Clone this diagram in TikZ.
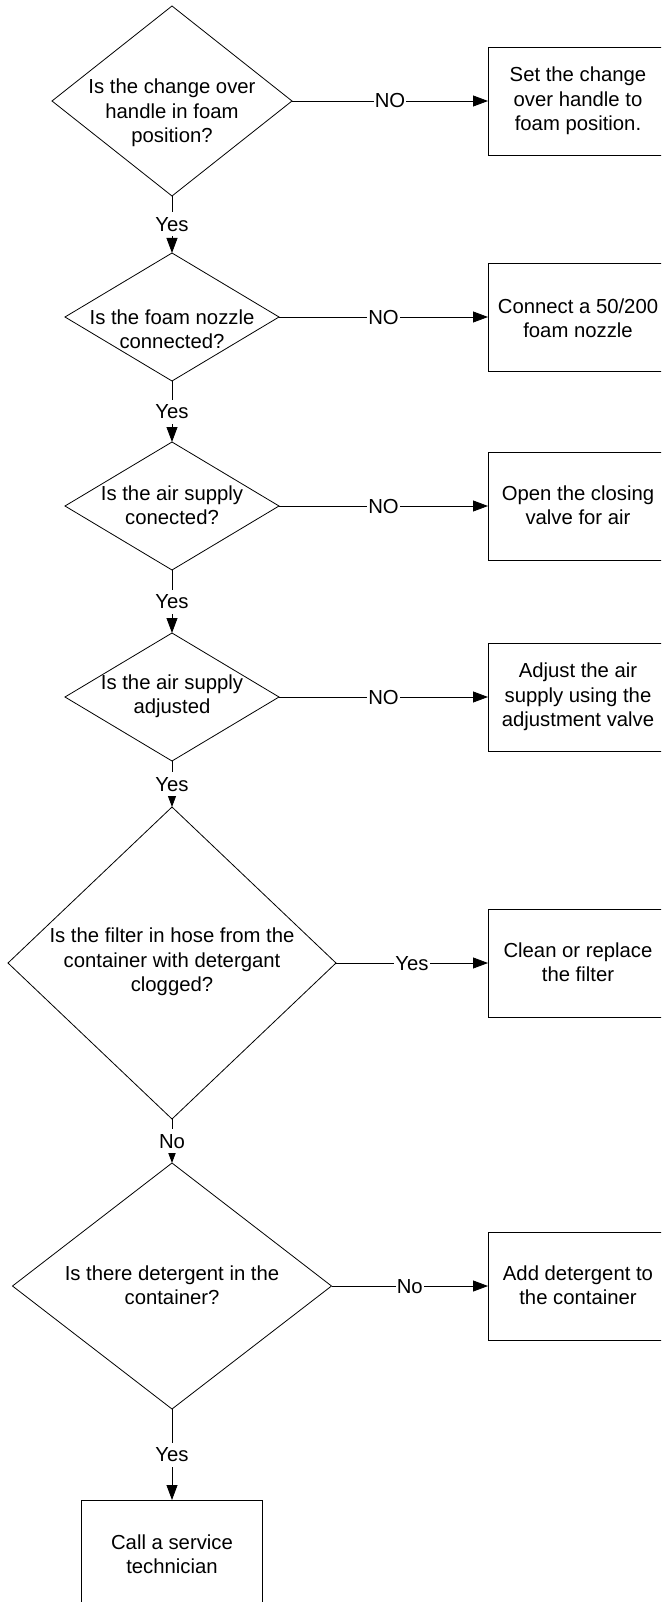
\documentclass[tikz,border=0pt]{standalone}
\usepackage{fontspec}
\setmainfont{Liberation Sans}
\usetikzlibrary{shapes.geometric,arrows.meta}
\begin{document}
\begin{tikzpicture}[x=1pt,y=-1pt,
  dia/.style={shape=diamond,draw=black,line width=0.8pt,inner sep=0pt,outer sep=0pt},
  box/.style={draw=black,line width=0.9pt,minimum width=180pt,minimum height=108pt,inner sep=0pt,outer sep=0pt},
  txt/.style={align=center,font=\fontsize{20.3}{24.5}\selectfont,inner sep=0pt},
  lab/.style={fill=white,font=\fontsize{20.3}{24.5}\selectfont,inner xsep=1pt,inner ysep=2pt,text height=17pt,text depth=3pt},
  conn/.style={line width=0.8pt,draw=black,-{Triangle[length=15pt,width=11pt]}}
]
\useasboundingbox (0,0) rectangle (661,1602);
\begin{scope}
\clip (0,0) rectangle (661,1602);
% decisions
\node[dia,minimum width=240pt,minimum height=190pt] (d1) at (172,101) {};
\node[txt] (t1) at (172,113) {Is the change over\\handle in foam\\position?};
\node[dia,minimum width=214pt,minimum height=128pt] (d2) at (172,317) {};
\node[txt] (t2) at (172,329) {Is the foam nozzle\\connected?};
\node[dia,minimum width=214pt,minimum height=128pt] (d3) at (172,506) {};
\node[txt] (t3) at (172,505) {Is the air supply\\conected?};
\node[dia,minimum width=214pt,minimum height=128pt] (d4) at (172,697) {};
\node[txt] (t4) at (172,696) {Is the air supply\\adjusted};
\node[dia,minimum width=328pt,minimum height=312pt] (d5) at (172,963) {};
\node[txt] (t5) at (172,962) {Is the filter in hose from the\\container with detergant\\clogged?};
\node[dia,minimum width=319pt,minimum height=246pt] (d6) at (172,1286) {};
\node[txt] (t6) at (172,1285) {Is there detergent in the\\container?};
% actions
\node[box] (b1) at (578,101) {};
\node[txt] (s1) at (578,101) {Set the change\\over handle to\\foam position.};
\node[box] (b2) at (578,317) {};
\node[txt] (s2) at (578,318) {Connect a 50/200\\foam nozzle};
\node[box] (b3) at (578,506) {};
\node[txt] (s3) at (578,505) {Open the closing\\valve for air};
\node[box] (b4) at (578,697) {};
\node[txt] (s4) at (578,697) {Adjust the air\\supply using the\\adjustment valve};
\node[box] (b5) at (578,963) {};
\node[txt] (s5) at (578,962) {Clean or replace\\the filter};
\node[box] (b6) at (578,1286) {};
\node[txt] (s6) at (578,1285) {Add detergent to\\the container};
\node[box,minimum width=181pt] (b7) at (172,1554) {};
\node[txt] (s7) at (172,1554) {Call a service\\technician};
% connectors
\draw[conn] (d1.east) -- node[lab]{NO} (b1.west);
\draw[conn] (d2.east) -- node[lab]{NO} (b2.west);
\draw[conn] (d3.east) -- node[lab]{NO} (b3.west);
\draw[conn] (d4.east) -- node[lab]{NO} (b4.west);
\draw[conn] (d5.east) -- node[lab]{Yes} (b5.west);
\draw[conn] (d6.east) -- node[lab]{No} (b6.west);
\draw[conn] (d1.south) -- node[lab]{Yes} (d2.north);
\draw[conn] (d2.south) -- node[lab]{Yes} (d3.north);
\draw[conn] (d3.south) -- node[lab]{Yes} (d4.north);
\draw[conn] (d4.south) -- node[lab]{Yes} (d5.north);
\draw[conn] (d5.south) -- node[lab]{No} (d6.north);
\draw[conn] (d6.south) -- node[lab]{Yes} (b7.north);
\end{scope}
\end{tikzpicture}
\end{document}
